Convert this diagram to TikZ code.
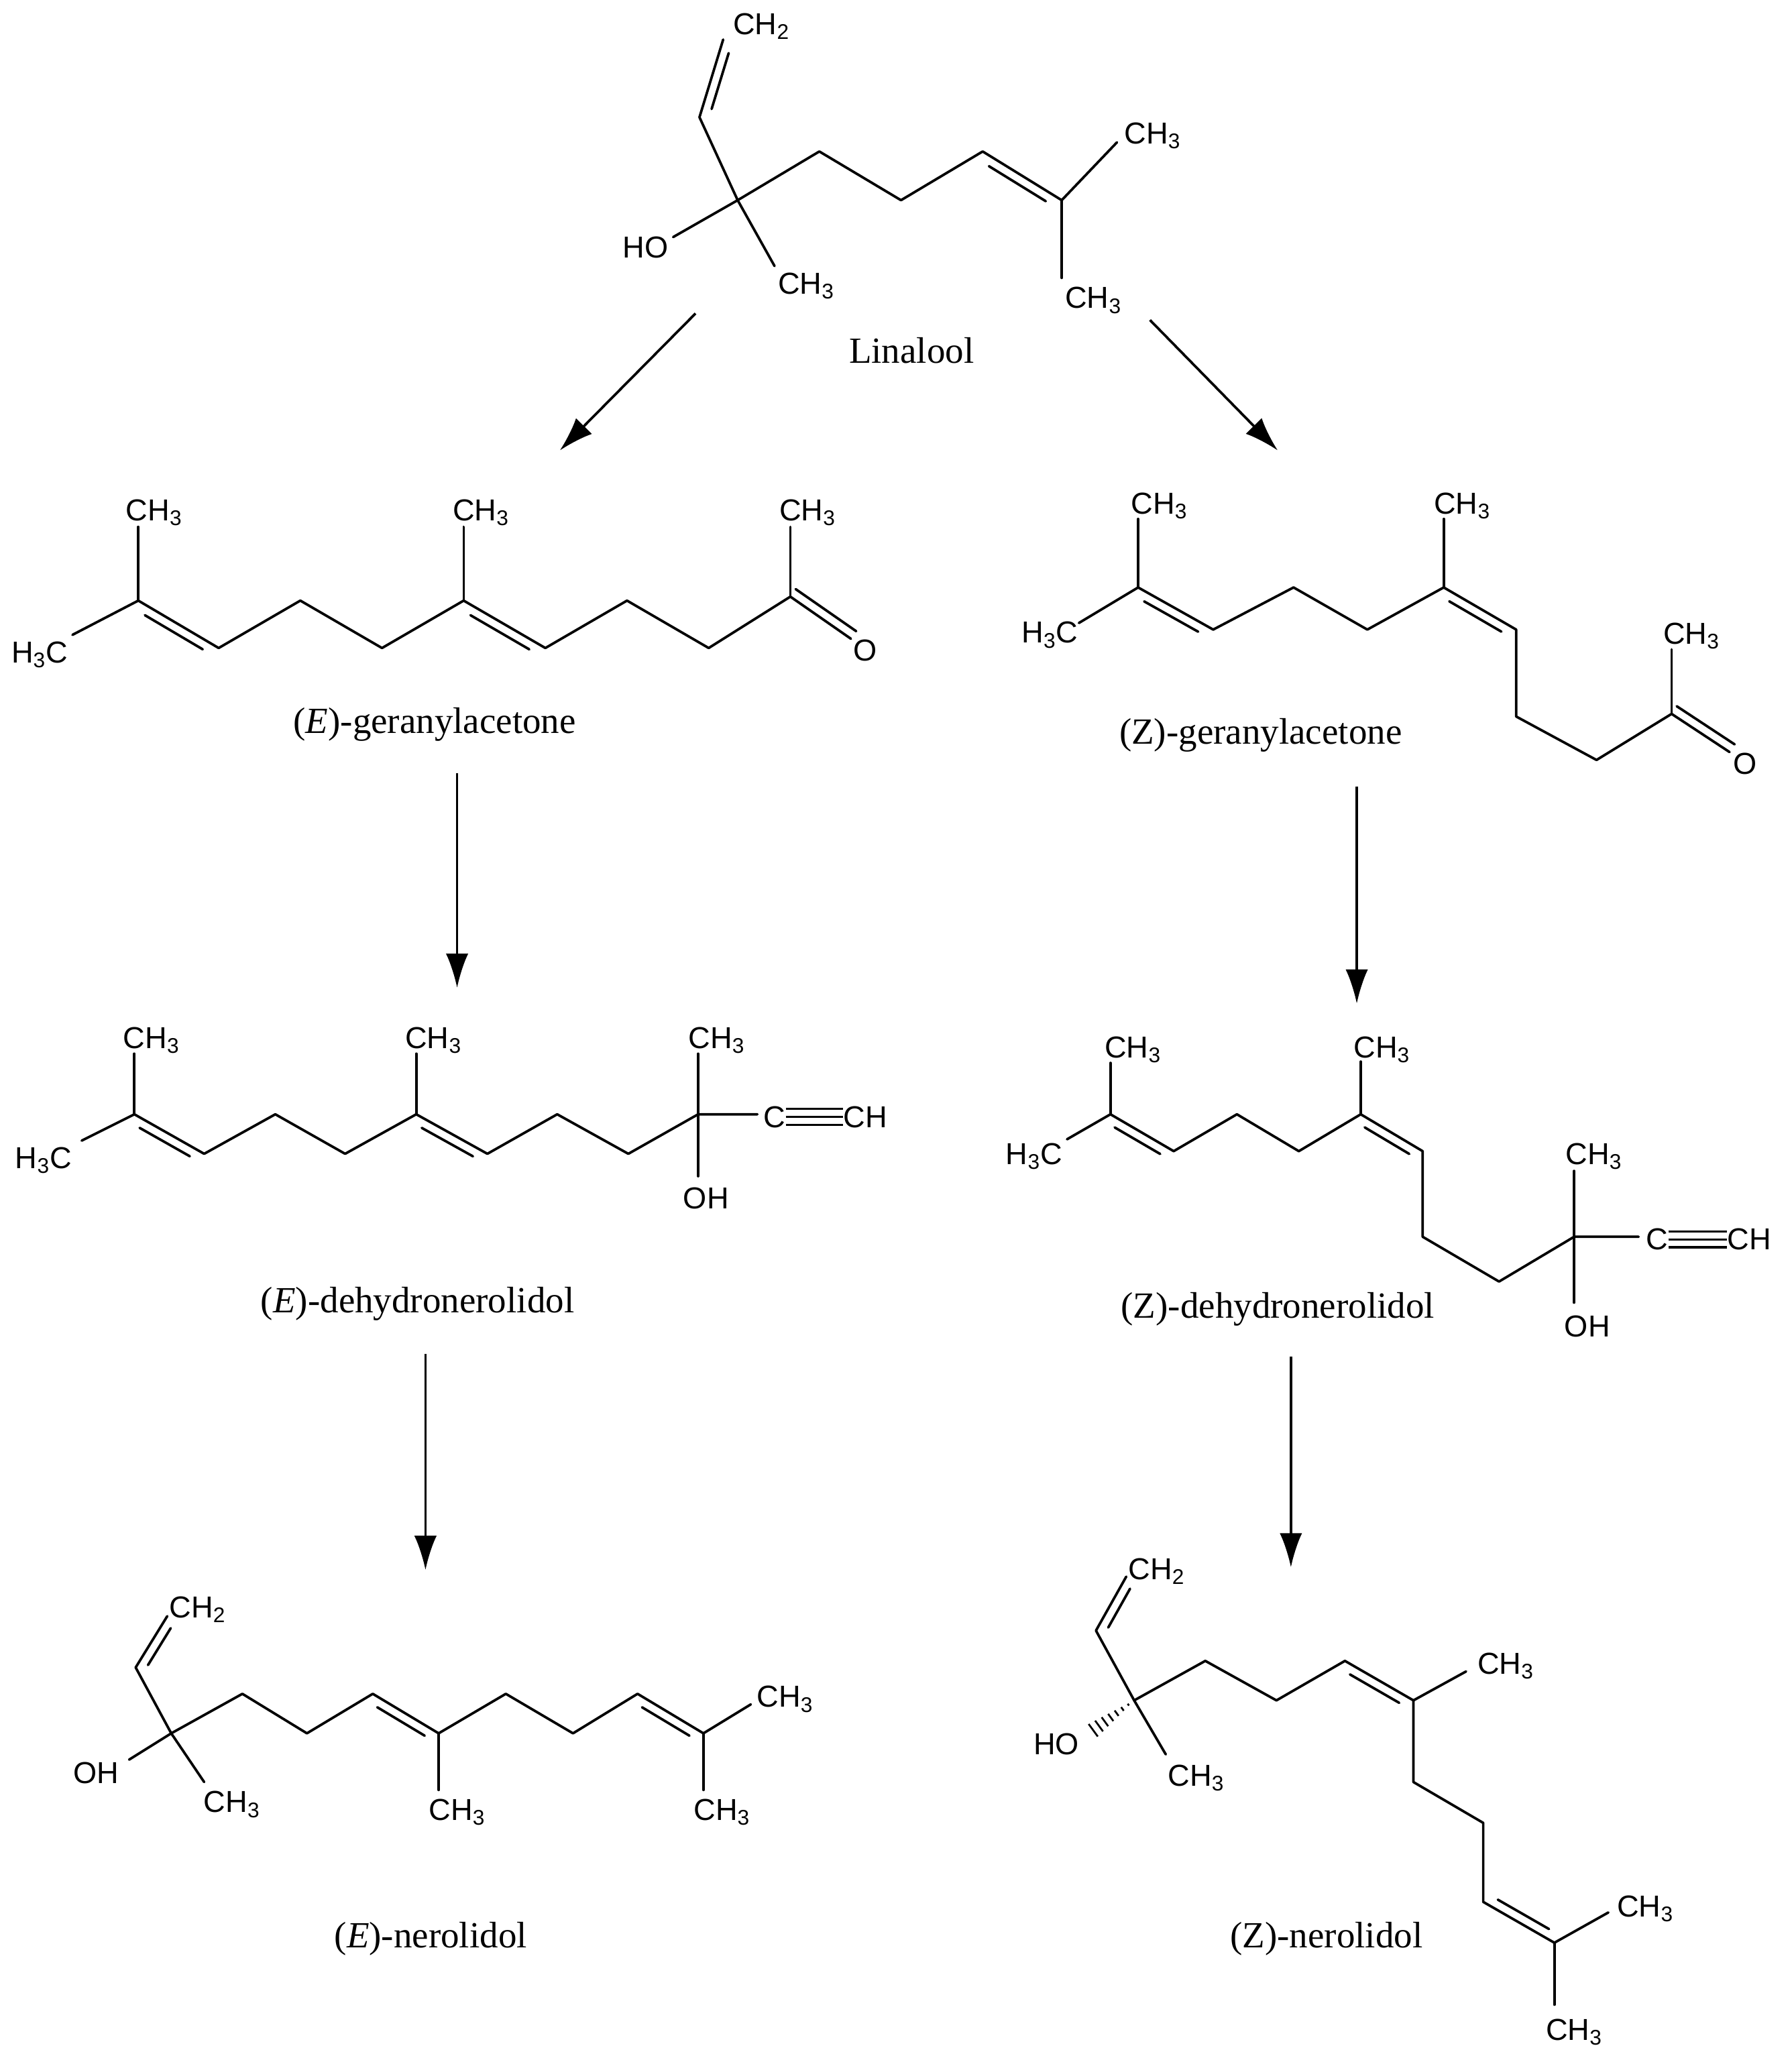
\documentclass[tikz,border=0pt]{standalone}
\usepackage{fontspec}
\setmainfont{Liberation Serif}
\newfontfamily\atomfont{Liberation Sans}
\usetikzlibrary{calc,arrows.meta}
\newcommand\dbond[3]{\draw[bond] ($(#1)!0.14!(#2)!#3!90:(#2)$) -- ($(#2)!0.14!(#1)!#3!-90:(#1)$);}
\begin{document}
\begin{tikzpicture}[x=1pt,y=-1pt,
  bond/.style={line width=1.9pt,line cap=round,line join=round},
  atom/.style={font=\atomfont\fontsize{23}{23}\selectfont,inner sep=0pt},
  cname/.style={font=\fontsize{28}{28}\selectfont,inner sep=0pt},
  rxn/.style={line width=1.9pt,-{Latex[length=26pt,width=17pt]}}]
\useasboundingbox (0,0) rectangle (1360,1561);
\fill[white] (0,0) rectangle (1360,1561);
% ---------- Linalool ----------
\coordinate (l1) at (560,152); \coordinate (lv) at (531,89); \coordinate (lv2) at (549,30);
\coordinate (lo) at (511,180); \coordinate (lm) at (588,202);
\coordinate (l2) at (622,115); \coordinate (l3) at (684,152); \coordinate (l4) at (746,115); \coordinate (l5) at (806,152);
\coordinate (l6) at (848,108); \coordinate (l7) at (806,211);
\draw[bond] (lo)--(l1)--(lm); \draw[bond] (lv)--(l1)--(l2)--(l3)--(l4)--(l5)--(l6); \draw[bond] (l5)--(l7);
\draw[bond] (lv)--(lv2); \dbond{lv}{lv2}{-7pt} \dbond{l4}{l5}{-7pt}
\node[atom] (lch2) at (578,20) {CH\textsubscript{2}};
\node[atom] (loh) at (490,188) {HO};
\node[atom] (lme1) at (612,217) {CH\textsubscript{3}};
\node[atom] (lme2) at (875,103) {CH\textsubscript{3}};
\node[atom] (lme3) at (830,228) {CH\textsubscript{3}};
\node[cname] (nlin) at (692,266) {Linalool};
% ---------- (E)-geranylacetone ----------
\coordinate (a0) at (55,482); \coordinate (a1) at (105,456); \coordinate (a1m) at (105,400);
\coordinate (a2) at (166,492); \coordinate (a3) at (228,456); \coordinate (a4) at (290,492);
\coordinate (a5) at (352,456); \coordinate (a5m) at (352,400); \coordinate (a6) at (414,492);
\coordinate (a7) at (476,456); \coordinate (a8) at (538,492); \coordinate (a9) at (600,453);
\coordinate (a9m) at (600,400); \coordinate (ao) at (646,485);
\draw[bond] (a0)--(a1)--(a2)--(a3)--(a4)--(a5)--(a6)--(a7)--(a8)--(a9)--(ao);
\draw[bond] (a1)--(a1m); \draw[bond] (a5)--(a5m); \draw[bond] (a9)--(a9m);
\dbond{a1}{a2}{-7pt} \dbond{a5}{a6}{-7pt}
\draw[bond] ($(a9)!7pt!90:(ao)$) -- ($(ao)!7pt!-90:(a9)$);
\node[atom] (ah3c) at (30,497) {H\textsubscript{3}C};
\node[atom] at (117,389) {CH\textsubscript{3}};
\node[atom] at (365,389) {CH\textsubscript{3}};
\node[atom] at (613,389) {CH\textsubscript{3}};
\node[atom] at (657,494) {O};
\node[cname] (nega) at (330,550) {(\textit{E})-geranylacetone};
% ---------- (Z)-geranylacetone ----------
\coordinate (b0) at (819,473); \coordinate (b1) at (864,446); \coordinate (b1m) at (864,394);
\coordinate (b2) at (921,478); \coordinate (b3) at (982,446); \coordinate (b4) at (1038,478);
\coordinate (b5) at (1096,446); \coordinate (b5m) at (1096,394); \coordinate (b6) at (1151,478);
\coordinate (b7) at (1151,544); \coordinate (b8) at (1212,577); \coordinate (b9) at (1269,542);
\coordinate (b9m) at (1269,493); \coordinate (bo) at (1313,571);
\draw[bond] (b0)--(b1)--(b2)--(b3)--(b4)--(b5)--(b6)--(b7)--(b8)--(b9)--(bo);
\draw[bond] (b1)--(b1m); \draw[bond] (b5)--(b5m); \draw[bond] (b9)--(b9m);
\dbond{b1}{b2}{-7pt} \dbond{b5}{b6}{-7pt}
\draw[bond] ($(b9)!7pt!90:(bo)$) -- ($(bo)!7pt!-90:(b9)$);
\node[atom] at (797,482) {H\textsubscript{3}C};
\node[atom] at (880,384) {CH\textsubscript{3}};
\node[atom] at (1110,384) {CH\textsubscript{3}};
\node[atom] at (1284,483) {CH\textsubscript{3}};
\node[atom] at (1325,580) {O};
\node[cname] (nzga) at (957,558) {(Z)-geranylacetone};
% ---------- (E)-dehydronerolidol ----------
\coordinate (c0) at (62,866); \coordinate (c1) at (102,846); \coordinate (c1m) at (102,800);
\coordinate (c2) at (155,876); \coordinate (c3) at (209,846); \coordinate (c4) at (262,876);
\coordinate (c5) at (316,846); \coordinate (c5m) at (316,800); \coordinate (c6) at (370,876);
\coordinate (c7) at (423,846); \coordinate (c8) at (477,876); \coordinate (c9) at (530,846);
\coordinate (c9m) at (530,800); \coordinate (c9o) at (530,893); \coordinate (c9y) at (575,846);
\draw[bond] (c0)--(c1)--(c2)--(c3)--(c4)--(c5)--(c6)--(c7)--(c8)--(c9)--(c9y);
\draw[bond] (c1)--(c1m); \draw[bond] (c5)--(c5m); \draw[bond] (c9m)--(c9o);
\dbond{c1}{c2}{-7pt} \dbond{c5}{c6}{-7pt}
\node[atom] at (33,881) {H\textsubscript{3}C};
\node[atom] at (115,790) {CH\textsubscript{3}};
\node[atom] at (329,790) {CH\textsubscript{3}};
\node[atom] at (544,790) {CH\textsubscript{3}};
\node[atom] at (536,910) {OH};
\node[atom] (cc1) at (588,848) {C};
\node[atom] (cc2) at (657,848) {CH};
\foreach \d in {-6,0,6} \draw[line width=1.6pt] ([yshift=\d pt]cc1.east) -- ([yshift=\d pt]cc2.west);
\node[cname] (neda) at (317,990) {(\textit{E})-dehydronerolidol};
% ---------- (Z)-dehydronerolidol ----------
\coordinate (d0) at (810,865); \coordinate (d1) at (843,846); \coordinate (d1m) at (843,807);
\coordinate (d2) at (891,874); \coordinate (d3) at (939,846); \coordinate (d4) at (986,874);
\coordinate (d5) at (1033,846); \coordinate (d5m) at (1033,806); \coordinate (d6) at (1080,874);
\coordinate (d7) at (1080,939); \coordinate (d8) at (1138,973); \coordinate (d9) at (1195,939);
\coordinate (d9m) at (1195,889); \coordinate (d9o) at (1195,989); \coordinate (d9y) at (1244,939);
\draw[bond] (d0)--(d1)--(d2)--(d3)--(d4)--(d5)--(d6)--(d7)--(d8)--(d9)--(d9y);
\draw[bond] (d1)--(d1m); \draw[bond] (d5)--(d5m); \draw[bond] (d9m)--(d9o);
\dbond{d1}{d2}{-7pt} \dbond{d5}{d6}{-7pt}
\node[atom] at (785,878) {H\textsubscript{3}C};
\node[atom] at (860,797) {CH\textsubscript{3}};
\node[atom] at (1049,797) {CH\textsubscript{3}};
\node[atom] at (1210,878) {CH\textsubscript{3}};
\node[atom] at (1205,1007) {OH};
\node[atom] (dc1) at (1258,941) {C};
\node[atom] (dc2) at (1328,941) {CH};
\foreach \d in {-6,0,6} \draw[line width=1.6pt] ([yshift=\d pt]dc1.east) -- ([yshift=\d pt]dc2.west);
\node[cname] (nzda) at (970,994) {(Z)-dehydronerolidol};
% ---------- (E)-nerolidol ----------
\coordinate (e1) at (130,1316); \coordinate (ev) at (103,1266); \coordinate (ev2) at (127,1227);
\coordinate (eo) at (98,1336); \coordinate (em) at (155,1353);
\coordinate (e2) at (184,1286); \coordinate (e3) at (233,1316); \coordinate (e4) at (283,1286);
\coordinate (e5) at (333,1316); \coordinate (e5m) at (333,1359); \coordinate (e6) at (384,1286);
\coordinate (e7) at (435,1316); \coordinate (e8) at (484,1286); \coordinate (e9) at (534,1316);
\coordinate (e9m) at (534,1359); \coordinate (e9r) at (570,1294);
\draw[bond] (eo)--(e1)--(em); \draw[bond] (ev2)--(ev)--(e1)--(e2)--(e3)--(e4)--(e5)--(e6)--(e7)--(e8)--(e9)--(e9r);
\draw[bond] (e5)--(e5m); \draw[bond] (e9)--(e9m);
\dbond{ev}{ev2}{-7pt} \dbond{e4}{e5}{-7pt} \dbond{e8}{e9}{-7pt}
\node[atom] at (150,1222) {CH\textsubscript{2}};
\node[atom] at (73,1346) {OH};
\node[atom] at (176,1370) {CH\textsubscript{3}};
\node[atom] at (347,1376) {CH\textsubscript{3}};
\node[atom] at (548,1376) {CH\textsubscript{3}};
\node[atom] at (596,1290) {CH\textsubscript{3}};
\node[cname] (nen) at (327,1472) {(\textit{E})-nerolidol};
% ---------- (Z)-nerolidol ----------
\coordinate (z1) at (861,1291); \coordinate (zv) at (832,1238); \coordinate (zv2) at (855,1197);
\coordinate (zo) at (824,1318); \coordinate (zm) at (885,1332);
\coordinate (z2) at (915,1261); \coordinate (z3) at (969,1291); \coordinate (z4) at (1021,1261);
\coordinate (z5) at (1073,1291); \coordinate (z5m) at (1113,1269); \coordinate (z6) at (1073,1353);
\coordinate (z7) at (1126,1384); \coordinate (z8) at (1126,1444); \coordinate (z9) at (1180,1475);
\coordinate (z9r) at (1221,1452); \coordinate (z9d) at (1180,1522);
\draw[bond] (z1)--(zm); \draw[bond] (zv2)--(zv)--(z1)--(z2)--(z3)--(z4)--(z5)--(z6)--(z7)--(z8)--(z9)--(z9r);
\draw[bond] (z5)--(z5m); \draw[bond] (z9)--(z9d);
\dbond{zv}{zv2}{-7pt} \dbond{z4}{z5}{-7pt} \dbond{z8}{z9}{7pt}
\foreach \t in {0.12,0.24,...,0.96}
  \draw[line width=1.4pt] ($(z1)!\t!(zo)!{\t*7pt}!90:(zo)$) -- ($(z1)!\t!(zo)!{\t*7pt}!-90:(zo)$);
\node[atom] at (878,1193) {CH\textsubscript{2}};
\node[atom] at (802,1324) {HO};
\node[atom] at (908,1350) {CH\textsubscript{3}};
\node[atom] at (1143,1265) {CH\textsubscript{3}};
\node[atom] at (1249,1449) {CH\textsubscript{3}};
\node[atom] at (1195,1543) {CH\textsubscript{3}};
\node[cname] (nzn) at (1007,1472) {(Z)-nerolidol};
% ---------- arrows ----------
\coordinate (r1s) at (528,238); \coordinate (r1e) at (425,342);
\coordinate (r2s) at (873,243); \coordinate (r2e) at (970,342);
\coordinate (r3s) at (347,587); \coordinate (r3e) at (347,750);
\coordinate (r4s) at (1030,597); \coordinate (r4e) at (1030,762);
\coordinate (r5s) at (323,1028); \coordinate (r5e) at (323,1192);
\coordinate (r6s) at (980,1030); \coordinate (r6e) at (980,1190);
\foreach \i in {1,...,6} \draw[rxn] (r\i s) -- (r\i e);
\end{tikzpicture}
\end{document}
